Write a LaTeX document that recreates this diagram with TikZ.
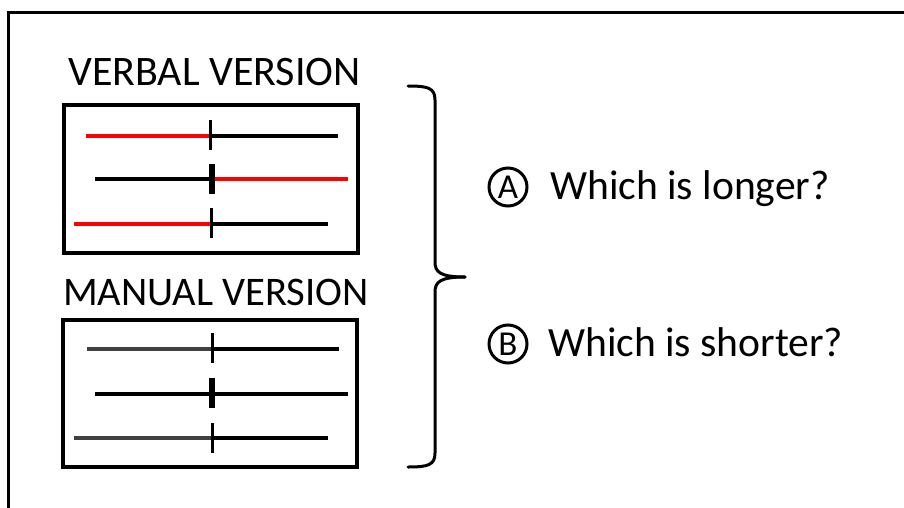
\documentclass[tikz,border=0pt]{standalone}
\usepackage{fontspec}
\setmainfont{Carlito}
\definecolor{markred}{RGB}{255,0,0}
\definecolor{softink}{RGB}{64,64,64}
\begin{document}
\begin{tikzpicture}[x=1pt,y=-1pt]
\useasboundingbox (0,0) rectangle (904,508);
\tikzset{
  frame/.style={line width=3pt},
  panel/.style={draw, line width=4pt, inner sep=0pt},
  seg/.style={line width=3.6pt},
  redseg/.style={seg, draw=markred},
  greyseg/.style={seg, draw=softink},
  thintick/.style={line width=3pt},
  boldtick/.style={line width=6pt},
  bracepath/.style={line width=3pt, line cap=round},
  title/.style={anchor=base west, inner sep=0pt},
  question/.style={anchor=base west, inner sep=0pt, font=\fontsize{41.6}{48}\selectfont},
  badge/.style={circle, draw, line width=3pt, minimum size=38pt, inner sep=0pt,
                font=\fontsize{35}{38}\selectfont}
}

% outer frame, open to the right and bottom
\draw[frame] (8,520) -- (8,13) -- (920,13);

% headings
\node[title, font=\fontsize{42}{48}\selectfont] (verbalhead) at (68,86) {VERBAL VERSION};
\node[title, font=\fontsize{40.6}{48}\selectfont] (manualhead) at (63,305) {MANUAL VERSION};

% verbal panel
\node[panel, minimum width=294pt, minimum height=148pt] (verbal) at (211,179) {};
\draw[redseg] (86,136) -- (210,136);
\draw[seg] (210,136) -- (338,136);
\draw[thintick] (210,120) -- (210,150);
\draw[seg] (95,179) -- (212,179);
\draw[redseg] (212,179) -- (348,179);
\draw[boldtick] (212,164) -- (212,194);
\draw[redseg] (74,224) -- (211,224);
\draw[seg] (211,224) -- (328,224);
\draw[thintick] (211,208) -- (211,238);

% manual panel
\node[panel, minimum width=294pt, minimum height=147pt] (manual) at (210,393.5) {};
\draw[greyseg] (87,349) -- (212,349);
\draw[seg] (212,349) -- (339,349);
\draw[thintick] (212,333) -- (212,363);
\draw[seg] (95,394) -- (348,394);
\draw[boldtick] (212,378) -- (212,408);
\draw[greyseg] (74,438) -- (212,438);
\draw[seg] (212,438) -- (328,438);
\draw[thintick] (212,423) -- (212,453);

% curly brace joining both panels
\coordinate (bracetop) at (408,86);
\coordinate (bracetip) at (465,277);
\coordinate (bracebot) at (408,467);
\draw[bracepath] (bracetop) .. controls (428,86) and (435,88) .. (435,100)
  -- (435,262) .. controls (435,272) and (440,277) .. (bracetip);
\draw[bracepath] (bracebot) .. controls (428,467) and (435,465) .. (435,453)
  -- (435,292) .. controls (435,282) and (440,277) .. (bracetip);

% questions
\node[badge] (qa) at (508,187) {A};
\node[question] (longer) at (550,199) {Which is longer?};
\node[badge] (qb) at (508,344) {B};
\node[question] (shorter) at (548,356) {Which is shorter?};
\end{tikzpicture}
\end{document}
